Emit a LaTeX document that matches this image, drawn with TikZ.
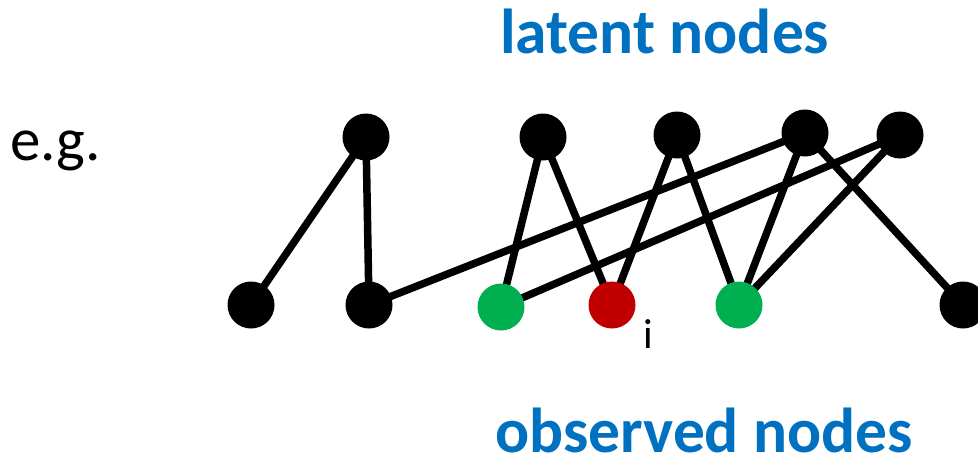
\documentclass[tikz,border=0pt]{standalone}
\usepackage{fontspec}
\setmainfont{Carlito}
\usetikzlibrary{backgrounds}
\definecolor{titleblue}{HTML}{0070C0}
\definecolor{obsgreen}{HTML}{00B050}
\definecolor{obsred}{HTML}{C00000}
\begin{document}
\begin{tikzpicture}[x=1pt,y=-1pt,
  vtx/.style={circle,fill=black,draw=none,minimum size=47pt,inner sep=0pt},
  link/.style={line width=7.5pt,black},
  title/.style={font=\fontsize{63.5}{70}\selectfont\bfseries,text=titleblue,inner sep=0pt,anchor=base west,text depth=0pt}]
\useasboundingbox (0,0) rectangle (978,461);
% latent
\node[vtx] (t1) at (366,137) {};
\node[vtx] (t2) at (543,137) {};
\node[vtx] (t3) at (677,135) {};
\node[vtx] (t4) at (805,133) {};
\node[vtx] (t5) at (900,135) {};
% observed
\node[vtx] (b1) at (251,305) {};
\node[vtx] (b2) at (369,305) {};
\node[vtx,fill=obsgreen] (b3) at (501,307) {};
\node[vtx,fill=obsred] (b4) at (612,305) {};
\node[vtx,fill=obsgreen] (b5) at (739,305) {};
\node[vtx] (b6) at (963,305) {};
\begin{pgfonlayer}{background}
\draw[link] (t1.center) -- (b1.center);
\draw[link] (t1.center) -- (b2.center);
\draw[link] (t2.center) -- (b3.center);
\draw[link] (t2.center) -- (b4.center);
\draw[link] (t3.center) -- (b4.center);
\draw[link] (t3.center) -- (b5.center);
\draw[link] (t4.center) -- (b2.center);
\draw[link] (t4.center) -- (b5.center);
\draw[link] (t4.center) -- (b6.center);
\draw[link] (t5.center) -- (b3.center);
\draw[link] (t5.center) -- (b5.center);
\end{pgfonlayer}
\node[title] (lat) at (500,53) {latent nodes};
\node[title] (obs) at (495,452) {observed nodes};
\node[inner sep=0pt,anchor=base west,font=\fontsize{61}{66}\selectfont] (eg) at (10,160) {e.g.};
\node[inner sep=0pt,anchor=base,font=\fontsize{42}{48}\selectfont] (ilab) at (648,348) {i};
\end{tikzpicture}
\end{document}
